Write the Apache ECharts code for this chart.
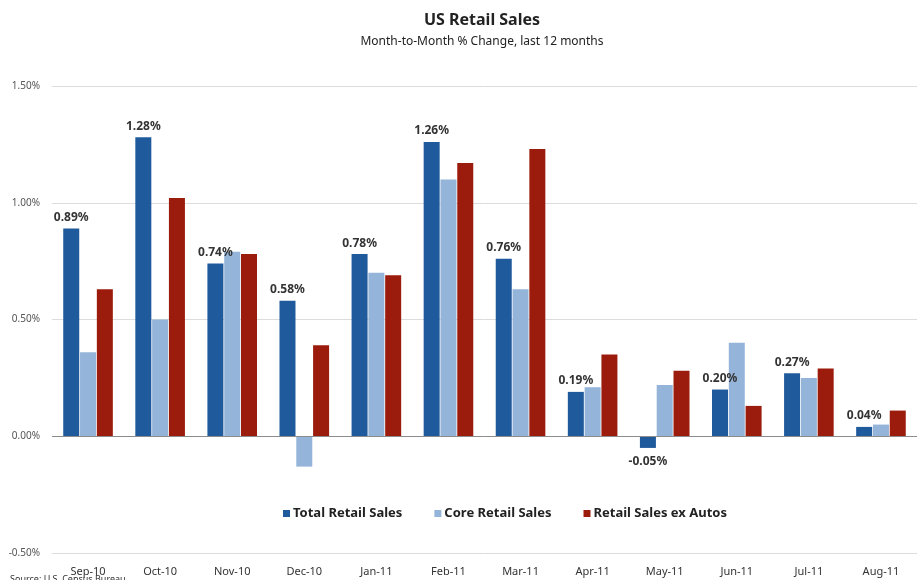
<!DOCTYPE html>
<html>
<head>
<meta charset="utf-8">
<script src="https://cdn.jsdelivr.net/npm/echarts@6/dist/echarts.min.js"></script>
<style>
  html, body { margin: 0; padding: 0; background: #fff; }
  #chart { width: 917px; height: 580px; }
</style>
</head>
<body>
<div id="chart"></div>
<script>
// Months shown on the category axis
const months = ['Sep-10', 'Oct-10', 'Nov-10', 'Dec-10', 'Jan-11', 'Feb-11',
                'Mar-11', 'Apr-11', 'May-11', 'Jun-11', 'Jul-11', 'Aug-11'];

// Month-to-month % change for each measure
const totalRetail = [0.89, 1.28, 0.74, 0.58, 0.78, 1.26, 0.76, 0.19, -0.05, 0.20, 0.27, 0.04];
const coreRetail  = [0.36, 0.50, 0.79, -0.13, 0.70, 1.10, 0.63, 0.21, 0.22, 0.40, 0.25, 0.05];
const exAutos     = [0.63, 1.02, 0.78, 0.39, 0.69, 1.17, 1.23, 0.35, 0.28, 0.13, 0.29, 0.11];

// Value axis range and step
const yMin = -0.5, yMax = 1.5, yStep = 0.5;

const FONT = '"Noto Sans", sans-serif';
const pct = v => v.toFixed(2) + '%';

const chart = echarts.init(document.getElementById('chart'), null, { renderer: 'canvas' });

// Total series: labels above positive bars, beneath negative ones
const totalData = totalRetail.map(v => v < 0
  ? { value: v, label: { position: 'bottom', distance: 8 } }
  : v);

chart.setOption({
  animation: false,
  backgroundColor: '#ffffff',
  textStyle: { fontFamily: FONT },
  title: [
    {
      text: 'US Retail Sales',
      left: 477, top: 7, textAlign: 'center',
      textStyle: { fontSize: 16, fontWeight: 'bold', color: '#222', fontFamily: FONT }
    },
    {
      text: 'Month-to-Month % Change, last 12 months',
      left: 477, top: 31, textAlign: 'center',
      textStyle: { fontSize: 12, fontWeight: 'normal', color: '#222', fontFamily: FONT }
    },
    {
      text: 'Source: U.S. Census Bureau',
      left: 5, top: 570,
      textStyle: { fontSize: 9, fontWeight: 'normal', color: '#333', fontFamily: FONT }
    }
  ],
  legend: {
    top: 502, left: 278,
    itemWidth: 7, itemHeight: 7, itemGap: 32,
    icon: 'rect',
    textStyle: { fontSize: 13, fontWeight: 'bold', color: '#222', fontFamily: FONT, padding: [0, 0, 0, -2] },
    data: ['Total Retail Sales', 'Core Retail Sales', 'Retail Sales ex Autos']
  },
  grid: { left: 52, right: 0, top: 86, bottom: 27, containLabel: false },
  xAxis: {
    type: 'category',
    data: months,
    axisLine: { show: false, onZero: false },
    axisTick: { show: false },
    axisLabel: { fontSize: 11, color: '#333', margin: 13, fontFamily: FONT }
  },
  yAxis: {
    type: 'value',
    min: yMin, max: yMax, interval: yStep,
    axisLine: { show: false },
    axisTick: { show: false },
    splitLine: { lineStyle: { color: '#dcdcdc', width: 1 } },
    axisLabel: {
      fontSize: 10, color: '#555', margin: 12, fontFamily: FONT,
      formatter: v => v.toFixed(2) + '%'
    }
  },
  series: [
    {
      name: 'Total Retail Sales',
      type: 'bar',
      data: totalData,
      barWidth: 16,
      barGap: '5%',
      itemStyle: { color: '#1F5A9C' },
      label: {
        show: true,
        position: 'top',
        distance: 5,
        fontSize: 12, fontWeight: 'bold', color: '#333', fontFamily: FONT,
        formatter: p => pct(p.value)
      },
      markLine: {
        silent: true,
        symbol: 'none',
        label: { show: false },
        lineStyle: { color: '#8c8c8c', width: 1, type: 'solid' },
        data: [{ yAxis: 0 }]
      }
    },
    {
      name: 'Core Retail Sales',
      type: 'bar',
      data: coreRetail,
      barWidth: 16,
      barGap: '5%',
      itemStyle: { color: '#94B4DA' }
    },
    {
      name: 'Retail Sales ex Autos',
      type: 'bar',
      data: exAutos,
      barWidth: 16,
      barGap: '5%',
      itemStyle: { color: '#9B1C0C' }
    }
  ]
});
</script>
</body>
</html>
